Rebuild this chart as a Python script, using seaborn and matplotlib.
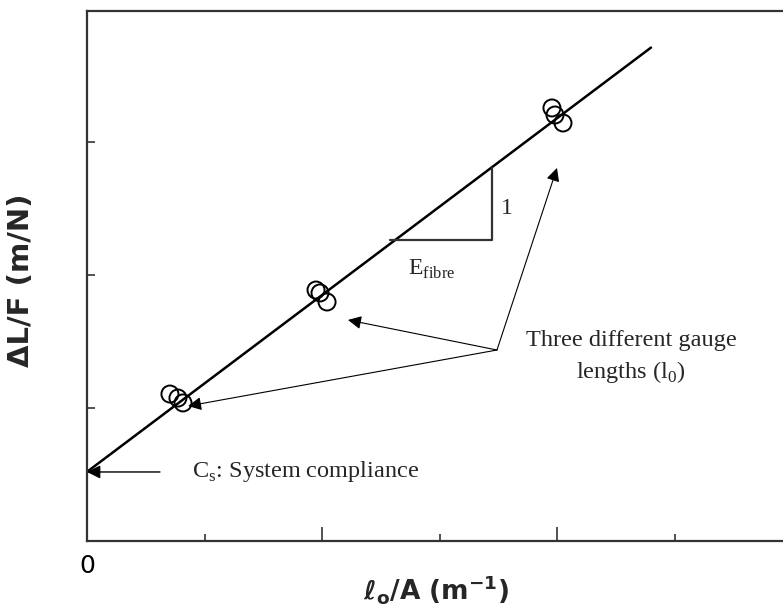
import matplotlib
matplotlib.use("Agg")
import matplotlib.pyplot as plt
import seaborn as sns
import pandas as pd

# ---- data (in tick units) ----
gauge_group = ["short", "short", "short", "mid", "mid", "mid", "long", "long", "long"]
x_vals = [0.706, 0.774, 0.817, 1.949, 1.983, 2.043, 3.957, 3.983, 4.051]
y_vals = [1.105, 1.075, 1.038, 1.887, 1.865, 1.797, 3.256, 3.203, 3.143]

fit_x = [0.0, 4.80]
fit_y = [0.52, 3.71]

x_ticks_major = [2, 4]
x_ticks_minor = [1, 3, 5]
y_ticks = [1, 2, 3]

sns.set_style("white")
plt.rcParams["font.family"] = ["DejaVu Sans"]

df = pd.DataFrame({"x": x_vals, "y": y_vals, "g": gauge_group})
fit = pd.DataFrame({"x": fit_x, "y": fit_y})

fig = plt.figure(figsize=(7.83, 6.10), dpi=100)
ax = fig.add_axes([87 / 783, 69 / 610, 705 / 783, 530 / 610])

sns.lineplot(data=fit, x="x", y="y", ax=ax, color="black", lw=1.8)
sns.scatterplot(data=df, x="x", y="y", ax=ax, marker="o", s=150,
                facecolors="none", edgecolor="black", linewidth=1.4, legend=False)
for coll in ax.collections:
    coll.set_facecolor("none")
    coll.set_edgecolor("black")

ax.set_xlim(0, 6)
ax.set_ylim(0, 3.985)

for s in ax.spines.values():
    s.set_color("#333333")
    s.set_linewidth(1.6)
    s.set_visible(True)

ax.set_xticks(x_ticks_major)
ax.set_xticks(x_ticks_minor, minor=True)
ax.set_yticks(y_ticks)
ax.tick_params(axis="x", which="major", direction="in", length=10, width=1.2,
               color="#333333", labelbottom=False, bottom=True)
ax.tick_params(axis="x", which="minor", direction="in", length=5, width=1.2,
               color="#333333", bottom=True)
ax.tick_params(axis="y", direction="in", length=6, width=1.2, color="#333333",
               labelleft=False, left=True)
ax.set_xlabel("")
ax.set_ylabel("")

ax.text(0, -0.1, "0", ha="center", va="top", fontsize=18, color="black",
        transform=ax.transData, clip_on=False)

fig.text(21 / 783, 1 - 280 / 610, "ΔL/F (m/N)", rotation=90, ha="center",
         va="center", fontsize=21, fontweight="bold")
fig.text(436 / 783, 1 - 589 / 610, r"$\mathbf{\ell_o}$/A (m$^{\mathbf{-1}}$)",
         ha="center", va="center", fontsize=19, fontweight="bold")

serif = "Liberation Serif"
tri_x = [2.579, 3.447, 3.447]
tri_y = [2.263, 2.263, 2.805]
ax.plot(tri_x, tri_y, color="#333333", lw=1.6)
ax.text(3.57, 2.50, "1", family=serif, fontsize=17, ha="center", va="center")
ax.text(2.93, 2.04, r"E$_{\mathregular{fibre}}$", family=serif, fontsize=17,
        ha="center", va="center")

src = (3.489, 1.436)
targets = [(2.221, 1.662), (0.860, 1.015), (4.0, 2.805)]
for t in targets:
    ax.annotate("", xy=t, xytext=src,
                arrowprops=dict(arrowstyle="-|>", color="black", lw=0.8,
                                mutation_scale=20, shrinkA=0, shrinkB=0))
ax.text(4.63, 1.38, "Three different gauge\nlengths (l$_{\\mathregular{0}}$)",
        family=serif, fontsize=17.5, ha="center", va="center", linespacing=1.4)

ax.annotate("", xy=(0.0, 0.519), xytext=(0.621, 0.519),
            arrowprops=dict(arrowstyle="-|>", color="black", lw=1.0,
                            mutation_scale=20, shrinkA=0, shrinkB=0))
ax.text(0.89, 0.519, r"C$_{\mathregular{s}}$: System compliance", family=serif,
        fontsize=17.5, ha="left", va="center")

fig.savefig("out.png", dpi=100)
